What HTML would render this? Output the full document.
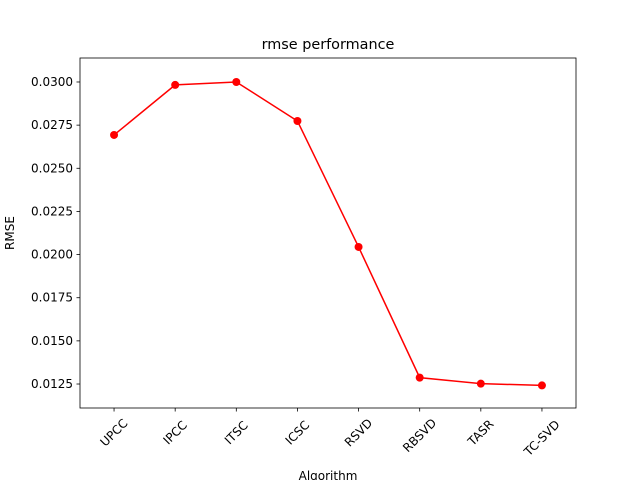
<!DOCTYPE html>
<html><head><meta charset="utf-8"><style>
body{margin:0;background:#fff;}
svg{display:block;font-family:"DejaVu Sans","Liberation Sans",sans-serif;}
</style></head><body>
<svg id="chart" width="640" height="480">
<rect width="640" height="480" fill="#fff"/>
<text x="328" y="49" font-size="14.4" text-anchor="middle">rmse performance</text>
<text x="328" y="480" font-size="12" text-anchor="middle">Algorithm</text>
<text transform="translate(14,233) rotate(-90)" font-size="12" text-anchor="middle">RMSE</text>
</svg>
<script>
const categories=["UPCC","IPCC","ITSC","ICSC","RSVD","RBSVD","TASR","TC-SVD"];
const rmseValues=[0.02693,0.02983,0.0300,0.02774,0.02044,0.01287,0.01252,0.01242];
const yTicks=[0.0125,0.0150,0.0175,0.0200,0.0225,0.0250,0.0275,0.0300];
const yTickLabels=["0.0125","0.0150","0.0175","0.0200","0.0225","0.0250","0.0275","0.0300"];
const L=80,R=576,T=58,B=408;
const xMin=-0.557,xMax=7.557,yMin=0.01111,yMax=0.03139;
const xs=i=>L+(i-xMin)/(xMax-xMin)*(R-L);
const ys=v=>B-(v-yMin)/(yMax-yMin)*(B-T);
const svg=document.getElementById('chart');
const NS='http://www.w3.org/2000/svg';
function mk(t,a){const e=document.createElementNS(NS,t);for(const k in a)e.setAttribute(k,a[k]);svg.appendChild(e);return e;}
yTicks.forEach((v,i)=>{
 const y=ys(v);
 const tk=mk('line',{x1:L-3.5,x2:L,y1:y,y2:y,stroke:'#000','stroke-width':0.8});
 
 
 const t=mk('text',{x:L-7,y:y+4,'font-size':12,'text-anchor':'end'});
 t.textContent=yTickLabels[i];
 
 
});
categories.forEach((c,i)=>{
 const x=xs(i);
 const tk=mk('line',{x1:x,x2:x,y1:B,y2:B+3.5,stroke:'#000','stroke-width':0.8});
 
 
 const len=c.length*7.6;
 const d=len/2*0.7071;
 const t=mk('text',{transform:`translate(${x},${B+14+d}) rotate(-45)`,'font-size':12,'text-anchor':'middle','dominant-baseline':'central'});
 t.textContent=c;
 
 
});
const pts=rmseValues.map((v,i)=>xs(i)+','+ys(v)).join(' ');
const line=mk('polyline',{points:pts,fill:'none',stroke:'#ff0000','stroke-width':1.5});


rmseValues.forEach((v,i)=>{
 const c=mk('circle',{cx:xs(i),cy:ys(v),r:4,fill:'#ff0000'});
 
 
});
const frame=mk('rect',{x:L,y:T,width:R-L,height:B-T,fill:'none',stroke:'#000','stroke-width':0.8});


</script>
</body></html>
